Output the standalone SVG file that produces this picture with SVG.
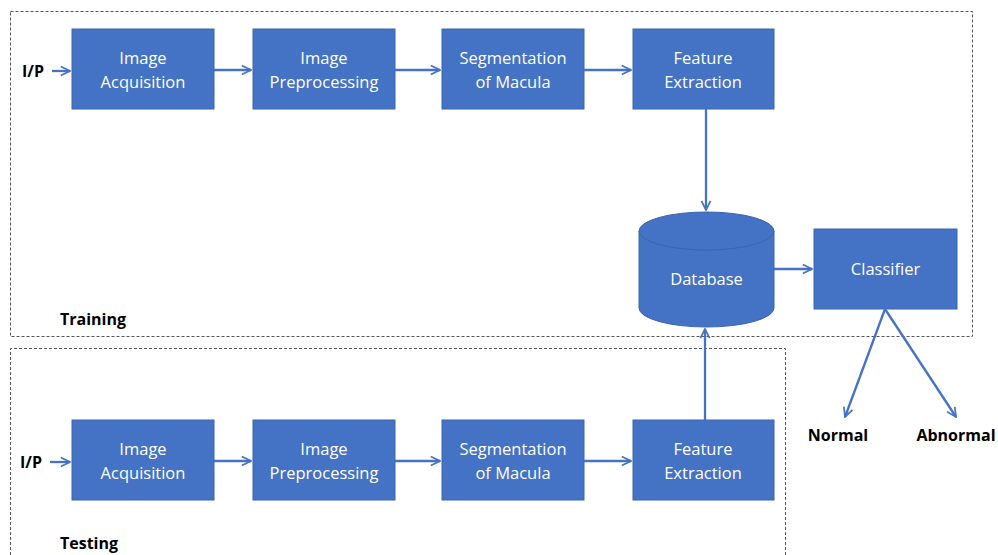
<svg xmlns="http://www.w3.org/2000/svg" width="998" height="555" viewBox="0 0 998 555">
<style>
.box{fill:#4472C4;stroke:#3A64AE;stroke-width:1}
.t{font-family:"Open Sans","Noto Sans",sans-serif;font-size:16.5px;fill:#fff;text-anchor:middle}
.b{font-family:"Open Sans","Noto Sans",sans-serif;font-size:16px;font-weight:bold;fill:#000}
.c{stroke:#4472C4;stroke-width:2.3;fill:none;marker-end:url(#ah)}
.frame{fill:none;stroke:#555;stroke-width:1;stroke-dasharray:3,2}
</style>
<defs>
<marker id="ah" viewBox="0 0 10 10" refX="9" refY="5" markerWidth="5" markerHeight="5" orient="auto" markerUnits="strokeWidth">
<path d="M1,1 L9,5 L1,9" fill="none" stroke="#4472C4" stroke-width="1.5"/>
</marker>
</defs>
<rect class="frame" x="10.5" y="11.5" width="962" height="325"/>
<path class="frame" d="M10.5,555 V348.5 H785.5 V555"/>
<text class="b" x="22" y="77">I/P</text>
<text class="b" x="20" y="468">I/P</text>
<text class="b" x="60" y="325">Training</text>
<text class="b" x="60" y="549">Testing</text>
<text class="b" x="838" y="441" text-anchor="middle">Normal</text>
<text class="b" x="956" y="441" text-anchor="middle">Abnormal</text>
<g id="train-acq"><rect class="box" x="72" y="29" width="142" height="80"/><text class="t" x="143" y="64">Image</text><text class="t" x="143" y="88">Acquisition</text></g>
<g id="train-pre"><rect class="box" x="253" y="29" width="142" height="80"/><text class="t" x="324" y="64">Image</text><text class="t" x="324" y="88">Preprocessing</text></g>
<g id="train-seg"><rect class="box" x="442" y="29" width="142" height="80"/><text class="t" x="513" y="64">Segmentation</text><text class="t" x="513" y="88">of Macula</text></g>
<g id="train-fe"><rect class="box" x="633" y="29" width="141" height="80"/><text class="t" x="703" y="64">Feature</text><text class="t" x="703" y="88">Extraction</text></g>
<g id="test-acq"><rect class="box" x="72" y="420" width="142" height="80"/><text class="t" x="143" y="455">Image</text><text class="t" x="143" y="479">Acquisition</text></g>
<g id="test-pre"><rect class="box" x="253" y="420" width="142" height="80"/><text class="t" x="324" y="455">Image</text><text class="t" x="324" y="479">Preprocessing</text></g>
<g id="test-seg"><rect class="box" x="442" y="420" width="142" height="80"/><text class="t" x="513" y="455">Segmentation</text><text class="t" x="513" y="479">of Macula</text></g>
<g id="test-fe"><rect class="box" x="633" y="420" width="141" height="80"/><text class="t" x="703" y="455">Feature</text><text class="t" x="703" y="479">Extraction</text></g>
<g id="database">
<path class="box" d="M639,231 A67.5,19 0 0 1 774,231 V308 A67.5,19 0 0 1 639,308 Z"/>
<path d="M639,231 A67.5,19 0 0 0 774,231" fill="none" stroke="#3A64AE" stroke-width="1"/>
<text class="t" x="706.5" y="285">Database</text>
</g>
<g id="classifier"><rect class="box" x="814" y="229" width="143" height="80"/><text class="t" x="885.5" y="275">Classifier</text></g>
<g id="connectors">
<line class="c" x1="52" y1="71" x2="70" y2="71"/>
<line class="c" x1="214" y1="70" x2="251" y2="70"/>
<line class="c" x1="395" y1="70" x2="440" y2="70"/>
<line class="c" x1="584" y1="70" x2="631" y2="70"/>
<line class="c" x1="50" y1="462" x2="70" y2="462"/>
<line class="c" x1="214" y1="461" x2="251" y2="461"/>
<line class="c" x1="395" y1="461" x2="440" y2="461"/>
<line class="c" x1="584" y1="461" x2="631" y2="461"/>
<line class="c" x1="706" y1="109" x2="706" y2="210"/>
<line class="c" x1="705" y1="420" x2="705" y2="329"/>
<line class="c" x1="774" y1="269" x2="812" y2="269"/>
<line class="c" x1="885" y1="309" x2="845" y2="417"/>
<line class="c" x1="885" y1="309" x2="956" y2="417"/>
</g>
</svg>
